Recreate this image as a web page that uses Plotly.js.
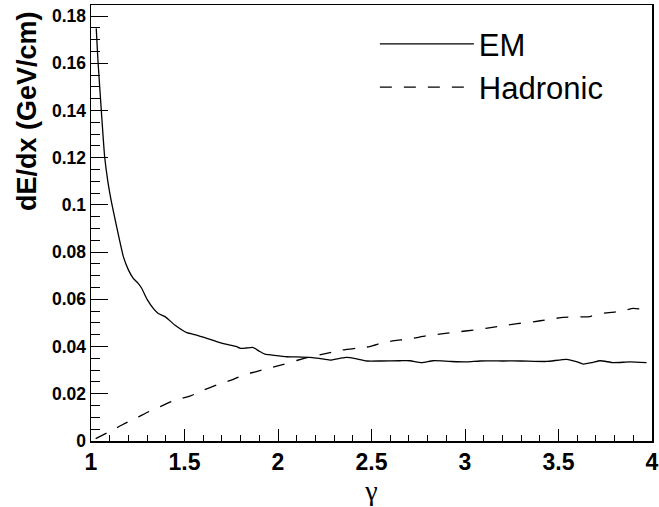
<!DOCTYPE html>
<html>
<head>
<meta charset="utf-8">
<script src="https://cdn.plot.ly/plotly-3.0.1.min.js"></script>
<style>html,body{margin:0;padding:0;background:#fff;}#chart{width:659px;height:507px;}</style>
</head>
<body>
<div id="chart"></div>
<script>
// EM (solid)
const emGamma = [1.028, 1.037, 1.055, 1.073, 1.09, 1.11, 1.137, 1.173, 1.2, 1.226, 1.25, 1.271, 1.3, 1.333, 1.36, 1.396, 1.45, 1.512, 1.565, 1.62, 1.672, 1.72, 1.779, 1.797, 1.83, 1.868, 1.9, 1.93, 1.97, 2.046, 2.1, 2.171, 2.22, 2.278, 2.33, 2.367, 2.42, 2.474, 2.55, 2.652, 2.706, 2.768, 2.83, 2.92, 3.01, 3.08, 3.2, 3.3, 3.437, 3.544, 3.6, 3.633, 3.68, 3.722, 3.793, 3.882, 3.971];
const emDedx = [0.1748, 0.1614, 0.1402, 0.1204, 0.110, 0.101, 0.0908, 0.0781, 0.0725, 0.0689, 0.067, 0.0647, 0.060, 0.0562, 0.054, 0.0527, 0.049, 0.0459, 0.0449, 0.0435, 0.0421, 0.041, 0.040, 0.0393, 0.0394, 0.0396, 0.038, 0.0368, 0.0364, 0.0357, 0.0356, 0.0354, 0.0350, 0.0343, 0.0350, 0.0354, 0.0348, 0.0339, 0.0339, 0.034, 0.034, 0.0332, 0.034, 0.0337, 0.0335, 0.0339, 0.0339, 0.0339, 0.0337, 0.0346, 0.0335, 0.0326, 0.0332, 0.034, 0.0332, 0.0335, 0.0332];
// Hadronic (dashed)
const hadGamma = [1.025, 1.1, 1.17, 1.244, 1.31, 1.369, 1.44, 1.529, 1.6, 1.672, 1.761, 1.815, 1.88, 1.957, 2.03, 2.1, 2.18, 2.26, 2.34, 2.42, 2.49, 2.563, 2.62, 2.706, 2.79, 2.884, 2.96, 3.045, 3.12, 3.205, 3.28, 3.365, 3.44, 3.526, 3.6, 3.668, 3.704, 3.77, 3.829, 3.9, 3.971];
const hadDedx = [0.001, 0.004, 0.007, 0.0098, 0.0125, 0.0145, 0.017, 0.019, 0.0215, 0.0237, 0.0261, 0.028, 0.0293, 0.0310, 0.0325, 0.0341, 0.0358, 0.0371, 0.0385, 0.0393, 0.0400, 0.0417, 0.0425, 0.0433, 0.0445, 0.0455, 0.0462, 0.047, 0.0478, 0.0489, 0.0497, 0.0505, 0.0514, 0.0524, 0.0526, 0.0527, 0.0538, 0.0544, 0.0549, 0.0562, 0.0555];

const seriesNames = ["EM", "Hadronic"];
const xTitle = "γ";
const yTitle = "dE/dx (GeV/cm)";

const traces = [
  {x: emGamma, y: emDedx, name: seriesNames[0], type: "scatter", mode: "lines",
   line: {color: "#000", width: 1.3, shape: "spline", smoothing: 0.5}},
  {x: hadGamma, y: hadDedx, name: seriesNames[1], type: "scatter", mode: "lines",
   line: {color: "#000", width: 1.3, dash: "12px,12px", shape: "spline", smoothing: 0.5}}
];

const axisFont = {family: "Liberation Sans, Arial, sans-serif", color: "#000", weight: "bold"};

const layout = {
  width: 659, height: 507,
  margin: {l: 91, r: 7, t: 5, b: 66},
  paper_bgcolor: "#fff", plot_bgcolor: "#fff",
  showlegend: true,
  legend: {x: 0.506, y: 0.972, xanchor: "left", yanchor: "top", bgcolor: "rgba(0,0,0,0)",
    font: {family: "Liberation Sans, Arial, sans-serif", size: 31, color: "#000"},
    itemwidth: 94, tracegroupgap: 0},
  xaxis: {
    range: [1, 4], showgrid: false, zeroline: false,
    showline: true, mirror: true, linecolor: "#000", linewidth: 1.5,
    ticks: "inside", ticklen: 12, tickwidth: 1, tickcolor: "#000", dtick: 0.5, tick0: 1,
    minor: {ticks: "inside", ticklen: 6, dtick: 0.1, tickcolor: "#000", showgrid: false},
    tickfont: Object.assign({size: 23}, axisFont), ticklabeloverflow: "allow",
    title: {text: xTitle, font: {family: "Liberation Serif, Times New Roman, serif", size: 28, color: "#000"}, standoff: 2}
  },
  yaxis: {
    range: [0, 0.1847], showgrid: false, zeroline: false,
    showline: true, mirror: true, linecolor: "#000", linewidth: 1.5,
    ticks: "inside", ticklen: 17, tickwidth: 1, tickcolor: "#000", dtick: 0.02, tick0: 0,
    minor: {ticks: "inside", ticklen: 9, dtick: 0.005, tickcolor: "#000", showgrid: false},
    tickfont: Object.assign({size: 17.5}, axisFont)
  },
  annotations: [
    {text: yTitle, xref: "paper", yref: "paper", x: -0.114, y: 0.757, xanchor: "center", yanchor: "middle",
     textangle: -90, showarrow: false,
     font: {family: "Liberation Sans, Arial, sans-serif", size: 27, color: "#000", weight: "bold"}}
  ]
};

Plotly.newPlot("chart", traces, layout, {displayModeBar: false, staticPlot: true});
</script>
</body>
</html>
